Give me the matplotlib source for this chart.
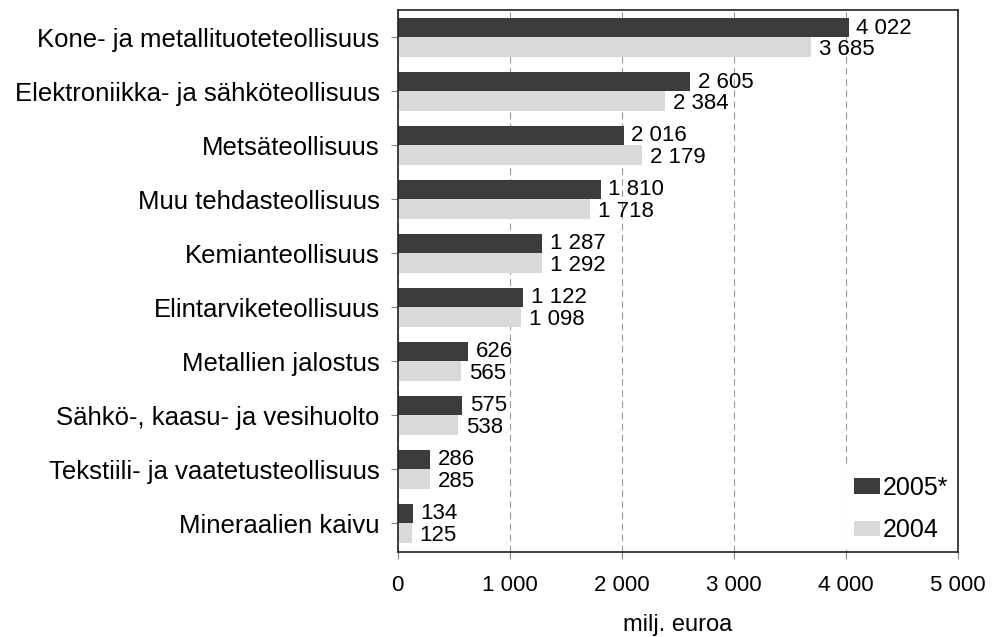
import matplotlib.pyplot as plt
import numpy as np

plt.rcParams['font.family'] = ['Liberation Sans', 'DejaVu Sans']

categories = ["Kone- ja metallituoteteollisuus", "Elektroniikka- ja sähköteollisuus",
              "Metsäteollisuus", "Muu tehdasteollisuus", "Kemianteollisuus",
              "Elintarviketeollisuus", "Metallien jalostus", "Sähkö-, kaasu- ja vesihuolto",
              "Tekstiili- ja vaatetusteollisuus", "Mineraalien kaivu"]
v2005 = [4022, 2605, 2016, 1810, 1287, 1122, 626, 575, 286, 134]
v2004 = [3685, 2384, 2179, 1718, 1292, 1098, 565, 538, 285, 125]
xticks = [0, 1000, 2000, 3000, 4000, 5000]

def fmt(v):
    return f"{v:,}".replace(",", " ")

fig = plt.figure(figsize=(9.94, 6.37), dpi=100)
ax = fig.add_axes([0.400, 0.133, 0.564, 0.851])

y = np.arange(len(categories))
h = 0.36
ax.barh(y - h / 2, v2005, height=h, color="#3c3c3c", label="2005*", zorder=2)
ax.barh(y + h / 2, v2004, height=h, color="#d9d9d9", label="2004", zorder=2)

# arvot palkkien perään
fs = 16
for i in range(len(categories)):
    ax.text(v2005[i] + 70, y[i] - h / 2 + 0.01, fmt(v2005[i]), va="center", ha="left", fontsize=fs)
    ax.text(v2004[i] + 70, y[i] + h / 2 + 0.04, fmt(v2004[i]), va="center", ha="left", fontsize=fs)

ax.set_ylim(len(categories) - 0.46, -0.5)
ax.set_xlim(0, 5000)
ax.set_yticks(y)
ax.set_yticklabels(categories, fontsize=18.5)
ax.set_xticks(xticks)
ax.set_xticklabels([fmt(t) for t in xticks], fontsize=16)
ax.tick_params(axis="both", direction="out", length=5, color="#888888")
ax.tick_params(axis="x", pad=11)
ax.tick_params(axis="y", pad=8)
ax.xaxis.grid(True, linestyle=(0, (6, 4)), color="#999999", linewidth=0.8, zorder=0)
ax.set_axisbelow(True)
for s in ax.spines.values():
    s.set_color("#222222")
    s.set_linewidth(1.2)

ax.set_xlabel("milj. euroa", fontsize=17, labelpad=13)
leg = ax.legend(loc="lower right", bbox_to_anchor=(1.0, 0.0), fontsize=18, handlelength=1.05,
                handleheight=0.6, handletextpad=0.1, labelspacing=0.75, borderaxespad=0.1,
                borderpad=0.3, frameon=True, framealpha=1, facecolor="white", edgecolor="none",
                fancybox=False)

fig.savefig("out.png", dpi=100)
